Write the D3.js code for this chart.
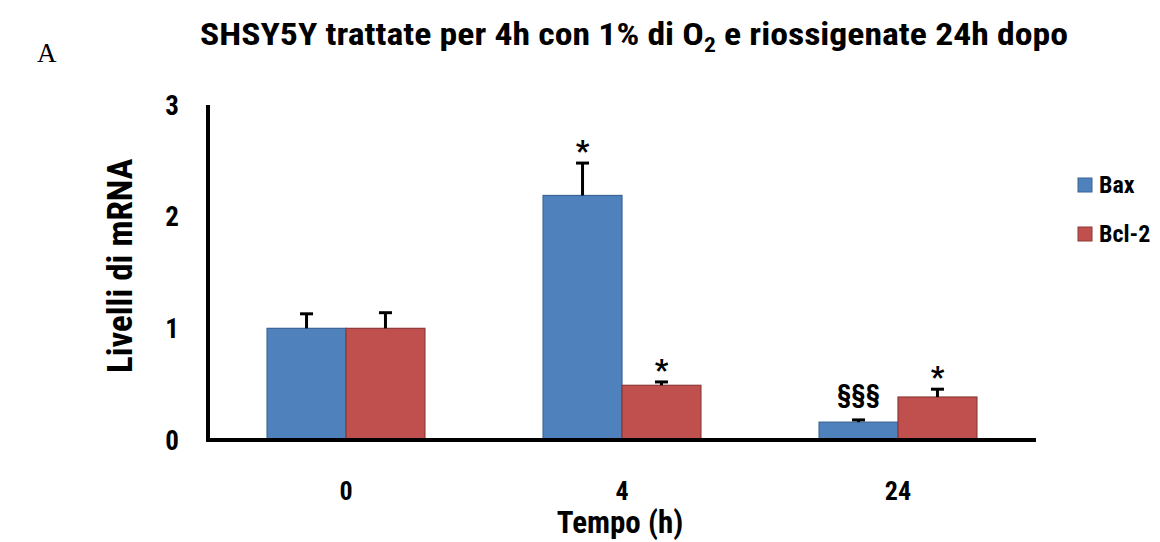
<!DOCTYPE html>
<html>
<head>
<meta charset="utf-8">
<script src="https://cdn.jsdelivr.net/npm/d3@7"></script>
<style>
  body { margin: 0; background: #fff; }
  .narrow { font-family: "Liberation Sans Narrow", "Arial Narrow", "Roboto Condensed", "DejaVu Sans Condensed", sans-serif; font-weight: bold; }
</style>
</head>
<body>
<div class="barChart"></div>
<script>
var timepoints = ["0", "4", "24"];
var seriesNames = ["Bax", "Bcl-2"];
var baxValues = [1.0, 2.19, 0.16];
var baxErrors = [0.13, 0.29, 0.02];
var bcl2Values = [1.0, 0.49, 0.385];
var bcl2Errors = [0.14, 0.03, 0.07];
var baxMarks = ["", "*", "§§§"];
var bcl2Marks = ["", "*", "*"];
var yTicks = [0, 1, 2, 3];

var width = 1160,
    height = 542,
    margin = { top: 105, left: 208, right: 124, bottom: 102 };

var fills = { "Bax": "#4f81bd", "Bcl-2": "#c0504d" },
    strokes = { "Bax": "#3a6494", "Bcl-2": "#8c3836" };

var svg = d3.select(".barChart").append("svg")
    .attr("width", width)
    .attr("height", height);

var x0 = d3.scaleBand()
    .domain(timepoints)
    .range([margin.left, width - margin.right])
    .paddingInner(0.428)
    .paddingOuter(0.214);

var x1 = d3.scaleBand()
    .domain(seriesNames)
    .range([0, x0.bandwidth()]);

var y = d3.scaleLinear()
    .domain([0, 3])
    .range([height - margin.bottom, margin.top]);

// one row per bar
var rows = [];
timepoints.forEach(function(t, i) {
  rows.push({ t: t, s: "Bax", v: baxValues[i], e: baxErrors[i], mark: baxMarks[i] });
  rows.push({ t: t, s: "Bcl-2", v: bcl2Values[i], e: bcl2Errors[i], mark: bcl2Marks[i] });
});

// "A" panel letter
svg.append("text")
  .text("A")
  .attr("x", 37)
  .attr("y", 62)
  .style("font-family", "'Liberation Serif', 'Times New Roman', serif")
  .style("font-size", "27px");

// title with subscript, stretched to the width of the original
var title = svg.append("text")
  .attr("class", "narrow")
  .attr("x", 200)
  .attr("y", 45)
  .attr("textLength", 868)
  .attr("lengthAdjust", "spacingAndGlyphs")
  .style("font-size", "32px");
title.append("tspan").text("SHSY5Y trattate per 4h con 1% di O");
title.append("tspan").text("2").attr("dy", 7).style("font-size", "21px");
title.append("tspan").text(" e riossigenate 24h dopo").attr("dy", -7);

var bars = svg.selectAll(".bar")
  .data(rows)
  .enter().append("g")
    .attr("class", "bar")
    .attr("transform", function(d) { return "translate(" + (x0(d.t) + x1(d.s)) + ",0)"; });

bars.append("rect")
  .attr("x", 0)
  .attr("y", function(d) { return y(d.v); })
  .attr("width", x1.bandwidth())
  .attr("height", function(d) { return y(0) - y(d.v); })
  .style("fill", function(d) { return fills[d.s]; })
  .style("stroke", function(d) { return strokes[d.s]; })
  .style("stroke-width", 1.2);

// error bars, upper half only
var cx = x1.bandwidth() / 2;
bars.append("line")
  .attr("x1", cx).attr("x2", cx)
  .attr("y1", function(d) { return y(d.v); })
  .attr("y2", function(d) { return y(d.v + d.e); })
  .style("stroke", "#000")
  .style("stroke-width", 3);

bars.append("line")
  .attr("x1", cx - 6.5).attr("x2", cx + 6.5)
  .attr("y1", function(d) { return y(d.v + d.e); })
  .attr("y2", function(d) { return y(d.v + d.e); })
  .style("stroke", "#000")
  .style("stroke-width", 3);

// significance marks
bars.append("text")
  .attr("class", "narrow")
  .attr("x", cx)
  .attr("y", function(d) { return y(d.v + d.e) - (d.mark === "*" ? 2 : 17); })
  .style("text-anchor", "middle")
  .style("font-size", function(d) { return d.mark === "*" ? "30px" : "26px"; })
  .text(function(d) { return d.mark; });

// axes
svg.append("line")
  .attr("x1", margin.left).attr("x2", margin.left)
  .attr("y1", y(3)).attr("y2", y(0) + 2)
  .style("stroke", "#000")
  .style("stroke-width", 4);

svg.append("line")
  .attr("x1", margin.left - 2).attr("x2", width - margin.right)
  .attr("y1", y(0)).attr("y2", y(0))
  .style("stroke", "#000")
  .style("stroke-width", 4);

svg.selectAll(".ytick")
  .data(yTicks)
  .enter().append("text")
    .attr("class", "ytick narrow")
    .attr("x", 179)
    .attr("y", function(d) { return y(d); })
    .attr("dy", "0.36em")
    .style("text-anchor", "end")
    .style("font-size", "27px")
    .text(function(d) { return d; });

svg.selectAll(".xtick")
  .data(timepoints)
  .enter().append("text")
    .attr("class", "xtick narrow")
    .attr("x", function(d) { return x0(d) + x0.bandwidth() / 2; })
    .attr("y", 500)
    .style("text-anchor", "middle")
    .style("font-size", "26px")
    .text(function(d) { return d; });

svg.append("text")
  .attr("class", "narrow")
  .attr("x", 620)
  .attr("y", 533)
  .style("text-anchor", "middle")
  .style("font-size", "31px")
  .text("Tempo (h)");

svg.append("text")
  .attr("class", "narrow")
  .attr("transform", "translate(132," + y(1.56) + ") rotate(-90)")
  .style("text-anchor", "middle")
  .style("font-size", "35px")
  .text("Livelli di mRNA");

// legend
var legend = svg.selectAll(".legend")
  .data(seriesNames)
  .enter().append("g")
    .attr("class", "legend")
    .attr("transform", function(d, i) { return "translate(1078," + (178 + i * 49) + ")"; });

legend.append("rect")
  .attr("width", 14)
  .attr("height", 14)
  .style("fill", function(d) { return fills[d]; })
  .style("stroke", function(d) { return strokes[d]; })
  .style("stroke-width", 1);

legend.append("text")
  .attr("class", "narrow")
  .attr("x", 21)
  .attr("y", 15)
  .style("font-size", "24px")
  .text(function(d) { return d; });
</script>
</body>
</html>
